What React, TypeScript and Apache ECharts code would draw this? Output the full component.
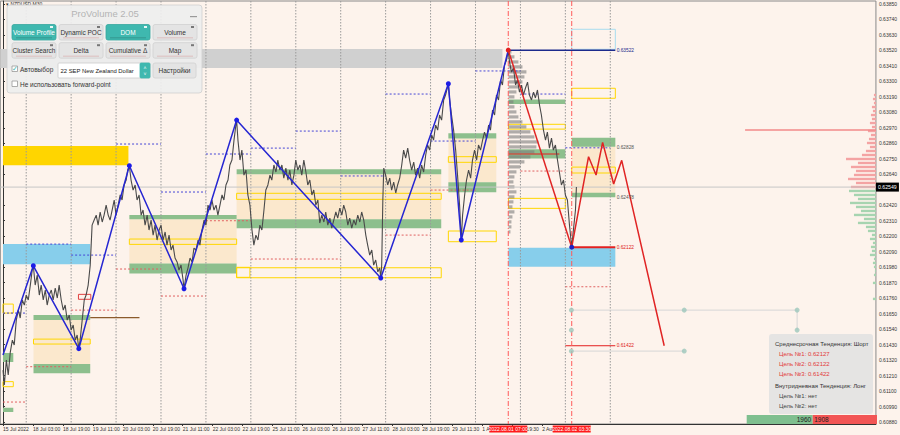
import React, { useEffect, useRef } from 'react';
import * as echarts from 'echarts';

const FONT = 'Liberation Sans';
const X_MIN = -1.44;
const X_MAX = 466.3;
const Y_MIN = 0.60866;
const Y_MAX = 0.63871;

const timeTickHours = [0, 16, 32, 48, 64, 80, 96, 112, 128, 144, 160, 176, 192, 208, 224, 240, 256, 272, 288];
const timeTickLabels = ['15 Jul 2022', '18 Jul 03:00', '18 Jul 19:00', '19 Jul 11:00', '20 Jul 03:00', '20 Jul 19:00', '21 Jul 11:00', '22 Jul 03:00', '22 Jul 19:00', '25 Jul 11:00', '26 Jul 03:00', '26 Jul 19:00', '27 Jul 11:00', '28 Jul 03:00', '28 Jul 19:00', '29 Jul 11:30', '1 Aug 03:30', '1 Aug 19:30', '2 Aug 11:30'];
// 0.62530 is hidden behind the current-price tag in the reference
const priceTickLabels = ['0.60880', '0.60990', '0.61100', '0.61210', '0.61320', '0.61430', '0.61540', '0.61650', '0.61760', '0.61870', '0.61980', '0.62090', '0.62200', '0.62310', '0.62420', '0.62640', '0.62750', '0.62860', '0.62970', '0.63080', '0.63190', '0.63300', '0.63410', '0.63520', '0.63630', '0.63740', '0.63850'];

const currentPrice = 0.62549;

// [hour, close]
const priceLine = [
  [0, 0.61249], [0.7, 0.61143], [1.8, 0.6132], [2.8, 0.61214], [3.9, 0.61377], [5.0, 0.61462], [6.0, 0.61427], [7.1, 0.61604], [8.2, 0.61675], [9.2, 0.61619], [10.3, 0.61747], [11.4, 0.61711], [12.4, 0.61782], [13.5, 0.61747], [14.6, 0.61853], [15.6, 0.6196], [16.2, 0.6199],
  [17.2, 0.61853], [18.3, 0.61924], [19.4, 0.61782], [20.4, 0.61853], [21.5, 0.61747], [22.6, 0.61818], [23.6, 0.61711], [24.7, 0.61782], [25.8, 0.61818], [26.8, 0.61747], [27.9, 0.61832], [29.0, 0.61761], [30.0, 0.61853], [31.1, 0.61747], [32.2, 0.61675], [33.2, 0.61711], [34.3, 0.61604], [35.4, 0.6164], [36.4, 0.61533], [37.5, 0.61569], [38.6, 0.61462], [39.6, 0.61498], [40.5, 0.61401],
  [41.2, 0.61462], [42.3, 0.61604], [43.4, 0.61747], [44.4, 0.61782], [45.5, 0.61853], [46.6, 0.61995], [47.1, 0.62137], [47.6, 0.62279], [48.7, 0.62315], [49.8, 0.6235], [50.8, 0.62279], [51.9, 0.62372], [53.0, 0.62301], [54.0, 0.6235], [55.1, 0.62421], [56.2, 0.6235], [57.2, 0.62315], [58.3, 0.62386], [59.4, 0.62457], [60.4, 0.6235], [61.5, 0.62421], [62.6, 0.62493], [63.6, 0.62457], [64.7, 0.62564], [65.8, 0.62599], [66.6, 0.6267], [67.5, 0.62701],
  [68.4, 0.62599], [69.5, 0.62528], [70.6, 0.62564], [71.6, 0.62457], [72.7, 0.62493], [73.8, 0.6235], [74.8, 0.62386], [75.9, 0.62279], [77.0, 0.6235], [78.0, 0.62244], [79.1, 0.62315], [80.2, 0.62208], [81.2, 0.62279], [82.3, 0.62173], [83.4, 0.62244], [84.4, 0.62279], [85.5, 0.62173], [86.6, 0.6223], [87.6, 0.62137], [88.7, 0.62208], [89.8, 0.62102], [90.8, 0.62137], [91.9, 0.62045], [93.0, 0.62017], [94.0, 0.6196], [95.1, 0.61995], [96.2, 0.61889], [96.7, 0.61827],
  [97.8, 0.61924], [98.8, 0.61974], [99.9, 0.62045], [101.0, 0.62017], [102.0, 0.62116], [103.1, 0.62102], [104.2, 0.62173], [105.2, 0.62137], [106.3, 0.62244], [107.4, 0.62315], [108.4, 0.62279], [109.5, 0.62421], [110.6, 0.62386], [111.6, 0.62457], [112.7, 0.62386], [113.8, 0.62421], [114.8, 0.6235], [115.9, 0.62421], [117.0, 0.62493], [118.0, 0.62457], [119.1, 0.62564], [120.2, 0.62599], [121.2, 0.62706], [122.3, 0.62741], [123.4, 0.62883], [124.4, 0.6299], [124.8, 0.63025],
  [125.5, 0.62883], [126.6, 0.62741], [127.6, 0.62812], [128.7, 0.62634], [129.8, 0.6267], [130.8, 0.62493], [131.9, 0.62421], [133.0, 0.62244], [134.0, 0.62137], [135.1, 0.62208], [136.2, 0.62173], [137.2, 0.62279], [138.3, 0.62244], [139.4, 0.62386], [140.4, 0.62528], [141.5, 0.62564], [142.6, 0.62634], [143.6, 0.62599], [144.7, 0.62706], [145.8, 0.62656], [146.8, 0.62741], [147.9, 0.6267], [149.0, 0.62706], [150.0, 0.62613], [151.1, 0.62684], [152.2, 0.62599], [153.2, 0.6267], [154.3, 0.62564], [155.4, 0.62634], [156.4, 0.62741], [157.5, 0.6267], [158.6, 0.62706], [159.6, 0.62634], [160.7, 0.62741], [161.8, 0.62656], [162.8, 0.62564], [163.9, 0.62599], [165.0, 0.62493], [166.0, 0.62528], [167.1, 0.62421], [168.2, 0.62457], [169.2, 0.62294], [170.3, 0.6235], [171.4, 0.62301], [172.4, 0.62372], [173.5, 0.62279], [174.6, 0.62329], [175.6, 0.62258], [176.7, 0.62315], [177.8, 0.62372], [178.8, 0.62329], [179.9, 0.624], [181.0, 0.6235], [182.0, 0.62421], [183.1, 0.62372], [184.2, 0.62279], [185.2, 0.62329], [186.3, 0.62258], [187.4, 0.62315], [188.4, 0.62279], [189.5, 0.6235], [190.6, 0.62301], [191.6, 0.62372], [192.7, 0.62315], [193.8, 0.62208], [194.8, 0.62137], [195.9, 0.62066], [197.0, 0.62102], [198.0, 0.61995], [199.1, 0.62031], [200.2, 0.61946], [201.2, 0.61974], [201.8, 0.61903],
  [202.3, 0.61995], [202.9, 0.62457], [203.4, 0.62684], [204.4, 0.62634], [205.5, 0.62564], [206.6, 0.62613], [207.6, 0.62528], [208.7, 0.62585], [209.8, 0.62507], [210.8, 0.62564], [211.9, 0.62613], [213.0, 0.62706], [214.0, 0.62812], [215.1, 0.62755], [216.2, 0.62826], [217.2, 0.62741], [218.3, 0.6267], [219.4, 0.62727], [220.4, 0.62634], [221.5, 0.62684], [222.6, 0.62613], [223.6, 0.62706], [224.7, 0.62656], [225.8, 0.62777], [226.8, 0.62848], [227.9, 0.62812], [229.0, 0.62919], [230.0, 0.62883], [231.1, 0.6299], [232.2, 0.62954], [233.2, 0.63061], [234.3, 0.63025], [235.4, 0.63168], [236.4, 0.63203], [237.9, 0.63283],
  [238.6, 0.63168], [239.6, 0.63061], [240.7, 0.62954], [241.8, 0.62812], [242.8, 0.62634], [243.9, 0.62421], [244.8, 0.62173],
  [245.5, 0.6235], [246.6, 0.62493], [247.6, 0.62599], [248.7, 0.6267], [249.8, 0.62613], [250.8, 0.62741], [251.9, 0.62812], [253.0, 0.62741], [254.0, 0.62848], [255.1, 0.62812], [256.2, 0.62883], [257.2, 0.6294], [258.3, 0.62897], [259.4, 0.6299], [260.4, 0.62954], [261.5, 0.63096], [262.6, 0.63061], [263.6, 0.63203], [264.7, 0.63168], [265.8, 0.6331], [266.8, 0.63274], [267.9, 0.63416], [269.0, 0.63452], [269.9, 0.63522],
  [270.6, 0.63437], [271.6, 0.63366], [272.7, 0.63395], [273.8, 0.63274], [274.8, 0.6331], [275.9, 0.63224], [277.0, 0.63274], [278.0, 0.63203], [279.1, 0.63253], [280.2, 0.63295], [281.2, 0.63203], [282.3, 0.63168], [283.4, 0.63224], [284.4, 0.63182], [285.5, 0.63239], [286.6, 0.63132], [287.6, 0.63061], [288.7, 0.62954], [289.8, 0.62883], [290.8, 0.6294], [291.9, 0.62826], [293.0, 0.62897], [294.0, 0.62812], [295.1, 0.62848], [296.2, 0.62741], [297.2, 0.62656], [298.3, 0.62564], [299.4, 0.62599], [300.4, 0.62493], [301.5, 0.62457], [302.6, 0.62279], [303.8, 0.62122], [304.7, 0.62244], [305.8, 0.62386], [306.3, 0.62549],
];

const blueZigzag = [[0, 0.61356], [16.2, 0.6199], [40.5, 0.61401], [67.5, 0.62701], [96.7, 0.61827], [124.8, 0.63025], [201.8, 0.61903], [237.9, 0.63283], [244.8, 0.62173], [269.9, 0.63522]];
const redZigzag = [[269.9, 0.63522], [303.8, 0.62122]];
const redForecast = [[303.8, 0.62122], [312.8, 0.62765], [316.8, 0.62635], [320.3, 0.62867], [326.2, 0.62571], [330.5, 0.62739], [353.2, 0.61422]];
const forecastMarks = ['', '', '', 'к', '', 'Л', ''];

const dayStarts = [0, 12.4, 36.4, 60.4, 84.4, 108.4, 132.4, 156.4, 180.4, 204.4, 228.4, 252.4, 276.4, 300.4, 324.4];
const dayHighs = [0.61654, 0.62144, 0.62066, 0.62855, 0.62514, 0.62784, 0.62826, 0.62947, 0.62628, 0.6321, 0.62876, 0.63374, 0.6321, 0.62828];
const dayLows = [0.61022, 0.61273, 0.61675, 0.61967, 0.61775, 0.6231, 0.62038, 0.62038, null, 0.62208, 0.62528, null, 0.62663, 0.61841];

// [fromHour, toHour, topPrice, bottomPrice, kind]
const zones = [
  [-1.44, 266.8, 0.6353, 0.63395, 'gray'],
  [0, 67.0, 0.62841, 0.62704, 'gold'],
  [0, 46.6, 0.62144, 0.62, 'sky'],
  [270, 327.1, 0.62118, 0.61983, 'sky'],
  [16.3, 46.6, 0.61604, 0.61292, 'fill'],
  [67.5, 124.8, 0.6232, 0.62007, 'fill'],
  [124.8, 234.1, 0.6264, 0.6232, 'fill'],
  [237.9, 263.5, 0.62895, 0.62583, 'fill'],
  [303.8, 327.1, 0.62836, 0.62507, 'fill'],
  [16.3, 46.6, 0.6164, 0.61604, 'green'],
  [16.3, 46.6, 0.61292, 0.61226, 'green'],
  [0, 5.5, 0.6137, 0.61306, 'green'],
  [0, 5.5, 0.60981, 0.60951, 'green'],
  [67.5, 124.8, 0.62351, 0.6232, 'green'],
  [67.5, 124.8, 0.62007, 0.61936, 'green'],
  [124.8, 234.1, 0.62675, 0.6264, 'green'],
  [124.8, 234.1, 0.6232, 0.62256, 'green'],
  [237.9, 263.5, 0.62931, 0.62895, 'green'],
  [237.9, 263.5, 0.62583, 0.62512, 'green'],
  [270, 300.4, 0.63172, 0.63139, 'green'],
  [270, 300.4, 0.62817, 0.62753, 'green'],
  [303.8, 327.1, 0.629, 0.62836, 'green'],
  [303.8, 327.1, 0.62509, 0.62476, 'green'],
  [16.3, 46.6, 0.61469, 0.61434, 'yellow'],
  [0, 5.5, 0.61718, 0.61654, 'yellow'],
  [0, 5.5, 0.61167, 0.61131, 'yellow'],
  [67.5, 124.8, 0.6218, 0.62142, 'yellow'],
  [124.8, 131.9, 0.61979, 0.61908, 'yellow'],
  [124.8, 234.1, 0.62505, 0.62462, 'yellow'],
  [124.8, 234.1, 0.61976, 0.61905, 'yellow'],
  [237.9, 263.5, 0.62765, 0.62725, 'yellow'],
  [237.9, 263.5, 0.62237, 0.62161, 'yellow'],
  [270, 300.4, 0.62995, 0.62961, 'yellow'],
  [270, 300.4, 0.62469, 0.62398, 'yellow'],
  [303.8, 327.1, 0.63251, 0.6318, 'yellow'],
  [303.8, 327.1, 0.62691, 0.62649, 'yellow'],
  [303.8, 327.1, 0.6367, 0.63528, 'cyanBox'],
  [40.3, 46.9, 0.61787, 0.61752, 'redBox'],
];

// [fromHour, toHour, price, kind]
const levelSegments = [
  [X_MIN, X_MAX, currentPrice, 'current'],
  [46.6, 72.9, 0.61621, 'brown'],
  [270, 297.2, 0.62784, 'redThin'],
  [269.9, 327.1, 0.63522, 'navy'],
  [303.8, 327.1, 0.62122, 'redThick'],
  [300.4, 327.1, 0.61422, 'redThin'],
  [396.4, 466.3, 0.62954, 'poc'],
];

const levelLabelValues = [0.63522, 0.62828, 0.62478, 0.62122, 0.61422];
const levelLabelKinds = ['navy', 'gray', 'gray', 'red', 'red'];

const timeMarkerHours = [269.9, 303.8];
const timeMarkerLabels = ['2022.08.01 07:00', '2022.08.02 03:30'];

const forwardLineA = [[303.6, 0.61675], [424.2, 0.61675], [424.2, 0.61533]];
const forwardLineB = [[303.6, 0.61384], [363.9, 0.61384]];
const forwardDots = [[303.6, 0.61675], [363.9, 0.61675], [424.2, 0.61675], [303.6, 0.61533], [424.2, 0.61533], [303.6, 0.61384], [363.9, 0.61384]];

// volume profile of the last swing (grey), anchored at the swing high
const grayProfileAnchor = 270;
const grayProfileTop = 0.63509;
const grayProfileStep = 0.000355;
const grayProfileVolumes = [3, 6, 10, 14, 18, 16, 14, 10, 8, 6, 5, 6, 8, 10, 14, 18, 22, 26, 30, 28, 26, 22, 16, 12, 8, 6, 5, 6, 8, 6, 5, 4, 6, 4, 3, 3, 2];

// DOM / right-hand profile
const rightProfileTop = 0.63203;
const rightProfileStep = 0.000284;
const rightProfileVolumes = [2, 3, 2, 4, 3, 5, 4, 6, 4, 8, 5, 7, 9, 6, 10, 14, 30, 18, 25, 20, 22, 28, 20,
  25, 27, 22, 18, 26, 20, 15, 22, 12, 18, 10, 8, 4, 6, 3, 5, 4, 6, 2, 3, 2, 1, 2, 0, 3, 0, 0, 0, 3];
const hoursPerVolumeUnit = 0.5333;

const midTermTargets = ['0.62127', '0.62122', '0.61422'];
const intradayTargets = ['нет', 'нет'];
const buyVolume = 1960;
const sellVolume = 1908;

const zoneStyles: any = {
  gray: { fill: '#d0d0d0' },
  gold: { fill: '#ffd500' },
  sky: { fill: '#87ceeb' },
  fill: { fill: 'rgba(250,222,180,0.55)' },
  green: { fill: '#8dbf8d' },
  yellow: { fill: 'none', stroke: '#ffd700', lineWidth: 1 },
  cyanBox: { fill: 'none', stroke: '#a8dcef', lineWidth: 1 },
  redBox: { fill: 'none', stroke: '#e04040', lineWidth: 1 },
};

const segStyles: any = {
  hi: { stroke: '#4646d6', lineWidth: 1, lineDash: [2, 2] },
  lo: { stroke: '#e06060', lineWidth: 1, lineDash: [2, 2] },
  current: { stroke: '#c6c6c6', lineWidth: 1 },
  brown: { stroke: '#8b5a2b', lineWidth: 1.2 },
  redThin: { stroke: '#e32020', lineWidth: 1 },
  redThick: { stroke: '#e32020', lineWidth: 2 },
  navy: { stroke: '#1c2a8c', lineWidth: 1.5 },
  poc: { stroke: '#f28a8a', lineWidth: 1.5 },
};

const labelColors: any = { navy: '#1c2a8c', gray: '#555', red: '#e02020' };

function txt(x: number, y: number, text: string, size: number, fill: string, align = 'left', weight = 'normal') {
  return {
    type: 'text', z: 100, x, y,
    style: { text, fill, fontSize: size, fontFamily: FONT, fontWeight: weight, align, textAlign: align, verticalAlign: 'middle', textVerticalAlign: 'middle' },
  };
}
function box(x: number, y: number, w: number, h: number, fill: string, stroke?: string, r = 0) {
  return { type: 'rect', z: 100, shape: { x, y, width: w, height: h, r }, style: { fill, stroke: stroke || 'none', lineWidth: 0.8 } };
}

function buildGraphics() {
  const g: any[] = [];
  g.push(txt(6, 4, '▾ NZDUSD,M30', 5, '#333'));
  // ProVolume panel
  g.push(box(7, 5, 195, 88, 'rgba(238,238,238,0.93)', '#cfcfcf', 3));
  g.push(txt(105, 13.5, 'ProVolume 2.05', 9.5, '#b4b4b4', 'center'));
  g.push(box(190, 16, 7, 1.2, '#9a9a9a'));
  const btns = [
    ['Volume Profile', true], ['Dynamic POC', false], ['DOM', true], ['Volume', false],
    ['Cluster Search', false], ['Delta', false], ['Cumulative Δ', false], ['Map', false],
  ];
  btns.forEach((b: any, i) => {
    const x = 12 + (i % 4) * 47;
    const y = i < 4 ? 24.5 : 42.7;
    const active = b[1];
    g.push(box(x, y, 44, 15.5, active ? '#3fb8af' : '#e4e4e4', active ? '#36a79e' : '#d0d0d0', 2));
    g.push(txt(x + 22, y + 8, b[0], 6.5, active ? '#ffffff' : '#333', 'center'));
    g.push(box(x + 4, y + 13, 36, 0.8, active ? 'rgba(0,0,0,0.25)' : 'rgba(200,80,80,0.35)'));
    g.push(box(x + 38, y + 1.5, 3, 2, active ? '#e8f8f6' : '#777'));
  });
  g.push(box(12, 66, 5.5, 5.5, '#ffffff', '#999'));
  g.push(txt(12.3, 68, '✓', 6.5, '#3fb8af'));
  g.push(txt(20, 69, 'Автовыбор', 6.5, '#333'));
  g.push(box(58, 63, 92, 15, '#ffffff', '#cccccc', 1));
  g.push(txt(60.5, 70.5, '22 SEP New Zealand Dollar', 5.9, '#222'));
  g.push(box(140, 63, 10, 15, '#3fb8af', '#3fb8af', 1));
  g.push(txt(145, 68, '˄', 5, '#fff', 'center'));
  g.push(txt(145, 73.5, '˅', 5, '#fff', 'center'));
  g.push(box(153, 63, 43, 15, '#e4e4e4', '#d0d0d0', 2));
  g.push(txt(174.5, 70.5, 'Настройки', 6.5, '#333', 'center'));
  g.push(box(12, 81, 5.5, 5.5, '#ffffff', '#999'));
  g.push(txt(20, 84, 'Не использовать forward-point', 6.5, '#333'));

  // info box
  g.push(box(769, 334, 104, 80, 'rgba(226,226,226,0.9)', 'none', 3));
  g.push(txt(775, 343.5, 'Среднесрочная Тенденция: Шорт', 6, '#333'));
  midTermTargets.forEach((t, i) => g.push(txt(779, 353.5 + i * 10, `Цель №${i + 1}: ${t}`, 6, '#e23a3a')));
  g.push(txt(775, 386, 'Внутридневная Тенденция: Лонг', 6, '#333'));
  intradayTargets.forEach((t, i) => g.push(txt(779, 396 + i * 10, `Цель №${i + 1}: ${t}`, 6, '#444')));

  // buy / sell volume bar
  const total = 130.3;
  const gw = (total * buyVolume) / (buyVolume + sellVolume);
  g.push(box(746.7, 415, gw, 9, '#7fbf8f'));
  g.push(box(746.7 + gw, 415, total - gw, 9, '#f25555'));
  g.push(txt(746.7 + gw - 1.5, 419.5, String(buyVolume), 6.5, '#222', 'right'));
  g.push(txt(746.7 + gw + 1.5, 419.5, String(sellVolume), 6.5, '#222', 'left'));
  return g;
}

function buildOption() {
  const segments: any[] = [];
  for (let i = 0; i < dayHighs.length; i++) {
    if (dayHighs[i] != null) segments.push([dayStarts[i], dayStarts[i + 1], dayHighs[i], 'hi']);
    if (dayLows[i] != null) segments.push([dayStarts[i], dayStarts[i + 1], dayLows[i], 'lo']);
  }
  levelSegments.forEach((s) => segments.push(s));

  const series: any[] = [
    {
      type: 'custom', name: 'zones', z: 1, clip: false, silent: true,
      data: zones.map((z: any) => [z[0], z[2], z[1], z[3]]),
      encode: { x: [0, 2], y: [1, 3] },
      renderItem: (params: any, api: any) => {
        const z: any = zones[params.dataIndex];
        const a = api.coord([z[0], z[2]]);
        const b = api.coord([z[1], z[3]]);
        return { type: 'rect', shape: { x: a[0], y: a[1], width: b[0] - a[0], height: b[1] - a[1] }, style: zoneStyles[z[4]] };
      },
    },
    {
      type: 'custom', name: 'daySeparators', z: 2, clip: false, silent: true,
      data: dayStarts.slice(1).map((h) => [h, Y_MIN]),
      renderItem: (params: any, api: any) => {
        const h = api.value(0);
        const a = api.coord([h, Y_MAX]);
        const b = api.coord([h, Y_MIN]);
        return { type: 'line', shape: { x1: a[0], y1: a[1], x2: b[0], y2: b[1] }, style: { stroke: '#9a9a9a', lineWidth: 1, lineDash: [1.5, 1.5] } };
      },
    },
    {
      type: 'custom', name: 'grayProfile', z: 2, clip: false, silent: true,
      data: grayProfileVolumes.map((v, i) => [grayProfileAnchor, grayProfileTop - i * grayProfileStep, v]),
      renderItem: (params: any, api: any) => {
        const p = api.value(1), v = api.value(2);
        const a = api.coord([grayProfileAnchor, p + grayProfileStep * 0.32]);
        const b = api.coord([grayProfileAnchor + v * hoursPerVolumeUnit, p - grayProfileStep * 0.32]);
        return { type: 'rect', shape: { x: a[0], y: a[1], width: b[0] - a[0], height: b[1] - a[1] }, style: { fill: 'rgba(125,125,125,0.6)' } };
      },
    },
    {
      type: 'custom', name: 'rightProfile', z: 2, clip: false, silent: true,
      data: rightProfileVolumes.map((v, i) => [X_MAX, rightProfileTop - i * rightProfileStep, v]),
      renderItem: (params: any, api: any) => {
        const p = api.value(1), v = api.value(2);
        const a = api.coord([X_MAX - v * hoursPerVolumeUnit, p + rightProfileStep * 0.3]);
        const b = api.coord([X_MAX, p - rightProfileStep * 0.3]);
        return { type: 'rect', shape: { x: a[0], y: a[1], width: b[0] - a[0], height: b[1] - a[1] }, style: { fill: p > currentPrice ? '#f4a3a3' : '#a6d4b0' } };
      },
    },
    {
      type: 'custom', name: 'segments', z: 3, clip: false, silent: true,
      data: segments.map((s) => [s[0], s[2], s[1]]),
      encode: { x: [0, 2], y: 1 },
      renderItem: (params: any, api: any) => {
        const s = segments[params.dataIndex];
        const a = api.coord([s[0], s[2]]);
        const b = api.coord([s[1], s[2]]);
        return { type: 'line', shape: { x1: a[0], y1: a[1], x2: b[0], y2: b[1] }, style: segStyles[s[3]] };
      },
    },
    {
      type: 'line', name: 'forwardA', z: 3, data: forwardLineA, showSymbol: false, silent: true,
      lineStyle: { color: '#d6d6d6', width: 1 },
    },
    {
      type: 'line', name: 'forwardB', z: 3, data: forwardLineB, showSymbol: false, silent: true,
      lineStyle: { color: '#d6d6d6', width: 1 },
    },
    {
      type: 'scatter', name: 'forwardDots', z: 4, data: forwardDots, symbolSize: 5, silent: true,
      itemStyle: { color: '#9cc7bc' },
    },
    {
      type: 'custom', name: 'timeMarkers', z: 4, clip: false, silent: true,
      data: timeMarkerHours.map((h) => [h, Y_MIN]),
      renderItem: (params: any, api: any) => {
        const h = api.value(0);
        const a = api.coord([h, Y_MAX]);
        const b = api.coord([h, Y_MIN]);
        const label = timeMarkerLabels[params.dataIndex];
        return {
          type: 'group',
          children: [
            { type: 'line', shape: { x1: a[0], y1: a[1], x2: b[0], y2: b[1] }, style: { stroke: '#ff5a5a', lineWidth: 1, lineDash: [5, 2, 1, 2] } },
            { type: 'rect', shape: { x: b[0] - 19, y: b[1] + 1.5, width: 38, height: 7 }, style: { fill: '#ff1a1a' } },
            { type: 'text', style: { text: label, x: b[0], y: b[1] + 5.2, fill: '#ffffff', fontSize: 5, fontFamily: FONT, align: 'center', textAlign: 'center', verticalAlign: 'middle', textVerticalAlign: 'middle' } },
          ],
        };
      },
    },
    {
      type: 'line', name: 'price', z: 5, data: priceLine, showSymbol: false, silent: true,
      lineStyle: { color: '#4a4a4a', width: 1.1 },
    },
    {
      type: 'line', name: 'blueZigzag', z: 6, silent: true, showAllSymbol: true,
      data: blueZigzag.map((p, i) => ({ value: p, symbol: i === 0 || i === blueZigzag.length - 1 ? 'none' : 'circle' })),
      symbolSize: 5, itemStyle: { color: '#1c1ce6' }, lineStyle: { color: '#2626d2', width: 1.5 },
    },
    {
      type: 'line', name: 'redZigzag', z: 6, silent: true, showAllSymbol: true,
      data: [
        { value: redZigzag[0], itemStyle: { color: '#e02020' } },
        { value: redZigzag[1], itemStyle: { color: '#2020c0' } },
      ],
      symbol: 'circle', symbolSize: 5, lineStyle: { color: '#e02424', width: 1.5 },
    },
    {
      type: 'line', name: 'redForecast', z: 6, silent: true, showSymbol: true, showAllSymbol: true,
      data: redForecast.map((p, i) => ({
        value: p,
        symbol: 'none',
        label: { show: forecastMarks[i] !== '', formatter: forecastMarks[i], position: 'top', distance: 1, color: '#e02020', fontSize: 6, fontFamily: FONT },
      })),
      lineStyle: { color: '#e02424', width: 1.5 },
    },
    {
      type: 'custom', name: 'levelLabels', z: 7, clip: false, silent: true,
      data: levelLabelValues.map((v) => [327.8, v]),
      renderItem: (params: any, api: any) => {
        const p = api.coord([api.value(0), api.value(1)]);
        const col = labelColors[levelLabelKinds[params.dataIndex]];
        return { type: 'text', style: { text: levelLabelValues[params.dataIndex].toFixed(5), x: p[0], y: p[1], fill: col, fontSize: 4.8, fontFamily: FONT, align: 'left', textAlign: 'left', verticalAlign: 'middle', textVerticalAlign: 'middle' } };
      },
    },
    {
      type: 'custom', name: 'currentPriceTag', z: 8, clip: false, silent: true,
      data: [[X_MAX, currentPrice]],
      renderItem: (params: any, api: any) => {
        const p = api.coord([X_MAX, currentPrice]);
        return {
          type: 'group',
          children: [
            { type: 'rect', shape: { x: p[0], y: p[1] - 4.5, width: 23, height: 9 }, style: { fill: '#000000' } },
            { type: 'text', style: { text: currentPrice.toFixed(5), x: p[0] + 2, y: p[1], fill: '#ffffff', fontSize: 5.2, fontFamily: FONT, align: 'left', textAlign: 'left', verticalAlign: 'middle', textVerticalAlign: 'middle' } },
          ],
        };
      },
    },
  ];

  return {
    animation: false,
    backgroundColor: '#fdf3ec',
    grid: { left: 0, right: 23, top: 1, bottom: 11, show: true, borderColor: '#8a8a8a', borderWidth: 1, backgroundColor: 'transparent' },
    xAxis: {
      type: 'value', min: X_MIN, max: X_MAX,
      axisLine: { show: true, lineStyle: { color: '#333', width: 1 } },
      axisTick: { show: true, customValues: timeTickHours, length: 2, lineStyle: { color: '#333' } },
      axisLabel: {
        customValues: timeTickHours, fontSize: 5, color: '#333', fontFamily: FONT, margin: 2, align: 'left',
        formatter: (v: number) => timeTickLabels[timeTickHours.indexOf(v)] || '',
      },
      splitLine: { show: false },
    },
    yAxis: {
      type: 'value', position: 'right', min: Y_MIN, max: Y_MAX, scale: true,
      axisLine: { show: true, lineStyle: { color: '#333', width: 1 } },
      axisTick: { show: true, customValues: priceTickLabels.map(Number), length: 2, lineStyle: { color: '#333' } },
      axisLabel: {
        customValues: priceTickLabels.map(Number), fontSize: 5, color: '#333', fontFamily: FONT, margin: 3,
        formatter: (v: number) => v.toFixed(5),
      },
      splitLine: { show: false },
    },
    series,
    graphic: { elements: buildGraphics() },
  };
}

export default function App() {
  const ref = useRef<HTMLDivElement>(null);
  useEffect(() => {
    document.body.style.margin = '0';
    const chart = echarts.init(ref.current as HTMLDivElement, null, { renderer: 'svg' });
    chart.setOption(buildOption() as any);
    return () => chart.dispose();
  }, []);
  return <div ref={ref} style={{ width: 900, height: 435 }} />;
}
